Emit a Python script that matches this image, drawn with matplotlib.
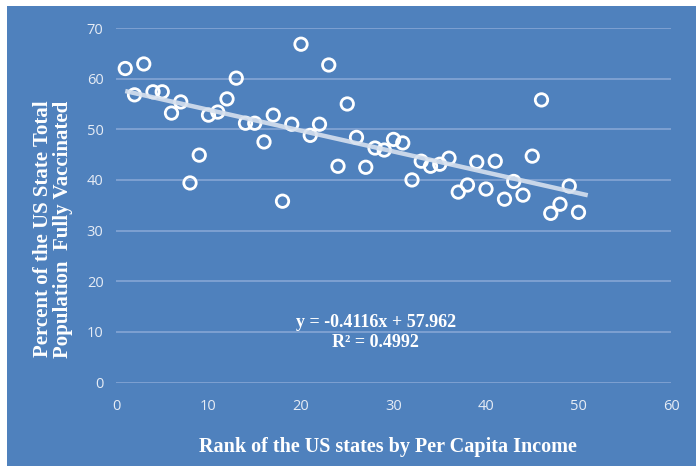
import numpy as np
import matplotlib
matplotlib.use("Agg")
import matplotlib.pyplot as plt
from matplotlib.patches import Rectangle

# rank of state by per capita income
rank = np.arange(1, 51)
# percent of population fully vaccinated
vaccinated = [
    62.0, 56.8, 62.9, 57.4, 57.4, 53.2, 55.4, 39.4, 44.9, 52.8,
    53.4, 56.0, 60.1, 51.2, 51.2, 47.5, 52.8, 35.8, 51.0, 66.8,
    48.8, 51.0, 62.7, 42.7, 55.0, 48.4, 42.5, 46.3, 45.9, 48.0,
    47.3, 40.0, 43.7, 42.7, 43.1, 44.3, 37.6, 39.0, 43.5, 38.2,
    43.7, 36.2, 39.7, 37.0, 44.7, 55.8, 33.4, 35.2, 38.8, 33.6,
]
slope = -0.4116
intercept = 57.962
r_squared = 0.4992
trend_range = [1, 51]

x_ticks = [0, 10, 20, 30, 40, 50, 60]
y_ticks = [0, 10, 20, 30, 40, 50, 60, 70]

BLUE = "#4F81BD"
GRID = "#86A6D4"
TEXT = "#E6ECF5"
SERIF = "Liberation Serif"

fig = plt.figure(figsize=(6.96, 4.66), dpi=100)
fig.patch.set_facecolor("white")
fig.patches.append(Rectangle((7 / 696, 0), 1, (466 - 6) / 466, transform=fig.transFigure,
                             facecolor=BLUE, edgecolor="none", zorder=-10))

ax = fig.add_axes([116 / 696, (466 - 382.5) / 466, 555 / 696, 354.5 / 466])
ax.set_facecolor("none")
for s in ax.spines.values():
    s.set_visible(False)

ax.set_xlim(0, 60)
ax.set_ylim(0, 70)
ax.set_xticks(x_ticks)
ax.set_yticks(y_ticks)
ax.tick_params(length=0, colors=TEXT, labelsize=10.5)
ax.tick_params(axis="y", pad=9)
ax.tick_params(axis="x", pad=12)
for lbl in ax.get_xticklabels() + ax.get_yticklabels():
    lbl.set_fontfamily("Open Sans")
ax.grid(axis="y", color=GRID, linewidth=1.2)
ax.set_axisbelow(True)

ax.scatter(rank, vaccinated, s=80, facecolors="none", edgecolors="white",
           linewidths=2, zorder=3)

tx = np.array(trend_range)
ax.plot(tx, slope * tx + intercept, color="#D6E0EE", linewidth=3.2, alpha=0.9,
        solid_capstyle="butt", zorder=4)

ax.text(28.1, 11.9, f"y = {slope}x + {intercept}", ha="center", va="center",
        color="white", fontsize=13, fontweight="bold", family=SERIF)
ax.text(28.1, 7.8, f"R² = {r_squared}", ha="center", va="center",
        color="white", fontsize=13, fontweight="bold", family=SERIF)

fig.text(388 / 696, 1 - 447 / 466, "Rank of the US states by Per Capita Income",
         ha="center", va="center", color="white", fontsize=14.5, fontweight="bold",
         family=SERIF)
fig.text(53 / 696, 1 - 229 / 466, "Percent of the US State Total\nPopulation  Fully Vaccinated",
         ha="center", va="center", rotation=90, color="white", fontsize=15,
         fontweight="bold", family=SERIF, linespacing=1.05)

fig.savefig("out.png", dpi=100)
